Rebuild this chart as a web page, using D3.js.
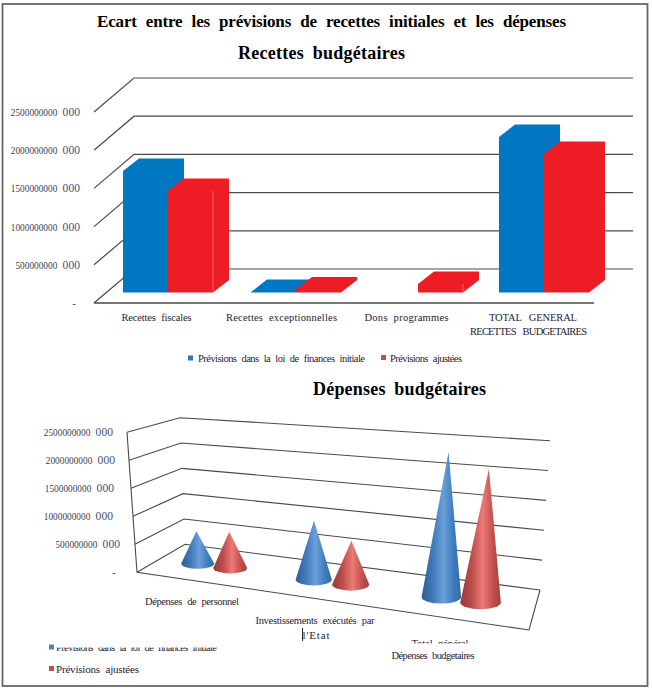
<!DOCTYPE html>
<html><head><meta charset="utf-8">
<script src="https://cdnjs.cloudflare.com/ajax/libs/d3/7.8.5/d3.min.js"></script>
<style>html,body{margin:0;padding:0;background:#fff}svg{display:block}text{font-family:"Liberation Serif",serif}</style>
</head><body><svg id="c" width="652" height="691"></svg>
<script>
const seriesNames = ["Prévisions dans la loi de finances initiale", "Prévisions ajustées"];
const tickValues = [0, 500000000, 1000000000, 1500000000, 2000000000, 2500000000];
const tickLabels = ["-", "500000000 000", "1000000000 000", "1500000000 000", "2000000000 000", "2500000000 000"];
const recCats = ["Recettes fiscales", "Recettes exceptionnelles", "Dons programmes", "TOTAL GENERAL RECETTES BUDGETAIRES"];
const recInitial = [1590000000, 5000000, 0, 2035000000];
const recAdjusted = [1328000000, 40000000, 111000000, 1813000000];
const depCats = ["Dépenses de personnel", "Investissements exécutés par l'Etat", "Total général"];
const depInitial = [590000000, 1031000000, 2400000000];
const depAdjusted = [658000000, 752000000, 2175000000];

const svg = d3.select("#c");
const defs = svg.append("defs");
const BLUE = "#0078c1", RED = "#ee1c25";
const gridCol = "#4a4a4a", textCol = "#2a2233";

function grad(id, stops){
  const g = defs.append("linearGradient").attr("id", id).attr("x1",0).attr("x2",1).attr("y1",0).attr("y2",0);
  stops.forEach(s => g.append("stop").attr("offset", s[0]).attr("stop-color", s[1]));
}
grad("gBlue", [[0,"#2c5f94"],[.3,"#3f7cbc"],[.55,"#6b9fd8"],[.8,"#3f7dc0"],[1,"#35699f"]]);
grad("gRed", [[0,"#9a3a38"],[.3,"#bd4f4c"],[.55,"#ec7a77"],[.8,"#c4514e"],[1,"#a23f3c"]]);

function label(x, y, str, size, width, opts){
  opts = opts || {};
  const t = svg.append("text").attr("x", x).attr("y", y).attr("font-size", size)
    .attr("fill", opts.fill || textCol).attr("text-anchor", opts.anchor || "start")
    .attr("font-weight", opts.bold ? "bold" : "normal")
    .attr("word-spacing", opts.ws == null ? 3 : opts.ws).text(str);
  if (width) t.attr("textLength", width).attr("lengthAdjust", "spacing");
  if (opts.clip) t.attr("clip-path", "url(#" + opts.clip + ")");
  return t;
}
function tickLabel(xEnd, y, str){
  const parts = str.split(" ");
  const t = svg.append("text").attr("x", xEnd).attr("y", y).attr("text-anchor","end").attr("fill", "#3a3f50").attr("word-spacing",3);
  if (parts.length < 2) { t.attr("font-size",11).text(str); return; }
  t.append("tspan").attr("font-size",9.3).text(parts[0] + " ");
  t.append("tspan").attr("font-size",11.6).attr("fill","#45566e").text(parts[1]);
}

// Outer frame
svg.append("rect").attr("x",2.5).attr("y",4).attr("width",645).attr("height",682)
  .attr("fill","#fff").attr("stroke","#666").attr("stroke-width",1.8);

// Titles
label(97, 27, "Ecart entre les prévisions de recettes initiales et les dépenses", 17, 469, {bold:true, fill:"#000", ws:5});
label(238, 59, "Recettes budgétaires", 18, 167, {bold:true, fill:"#000", ws:4});
label(313, 395, "Dépenses budgétaires", 18, 173, {bold:true, fill:"#000", ws:4});

/* ---------- Top chart: 3D columns ---------- */
const yTop = d3.scaleLinear().domain([0, 2500000000]).range([303, 112]);
const xTop = d3.scaleBand().domain(recCats).range([94, 594]).paddingInner(.28).paddingOuter(.14);
const sTop = d3.scaleBand().domain(seriesNames).range([0, xTop.bandwidth()]);
const wallDx = 40, wallDy = -34;
const gTop = svg.append("g");
gTop.selectAll("path.grid").data(tickValues).join("path").attr("class","grid")
  .attr("fill","none").attr("stroke",gridCol).attr("stroke-width",1.2)
  .attr("d", v => d3.line()([[94,yTop(v)],[94+wallDx,yTop(v)+wallDy],[633,yTop(v)+wallDy]]));
gTop.append("line").attr("x1",94).attr("x2",594).attr("y1",yTop(0)).attr("y2",yTop(0)).attr("stroke",gridCol).attr("stroke-width",1.3);

const floorDx = 11, floorDy = -10.5, depthDx = 16, depthDy = -12.5;
const catNudge = [0.5, 3.5, 0.5, 1.5];
const bars = [];
recCats.forEach((c,i) => {
  bars.push({cat:c, s:seriesNames[0], v:recInitial[i], col:BLUE, i});
  bars.push({cat:c, s:seriesNames[1], v:recAdjusted[i], col:RED, i});
});
bars.filter(d => d.v > 0).forEach(d => {
  const x0 = xTop(d.cat) + sTop(d.s) + floorDx + catNudge[d.i], x1 = x0 + sTop.bandwidth();
  const y0 = yTop(0) + floorDy, y1 = yTop(d.v) + floorDy;
  gTop.append("path").attr("fill", d.col).attr("d", d3.line()([
    [x0,y0],[x0,y1],[x0+depthDx,y1+depthDy],[x1+depthDx,y1+depthDy],[x1+depthDx,y0+depthDy],[x1,y0]]));
  if (d.col === RED && d.i !== 3 && y0 - y1 > 4)
    gTop.append("line").attr("x1",x1).attr("x2",x1).attr("y1",y1).attr("y2",y0).attr("stroke","#f4787c").attr("stroke-width",.8);
});

const topLabelEnds = [76,80,80,80,80,80];
tickLabels.forEach((t,i) => tickLabel(topLabelEnds[i], yTop(tickValues[i]) + 4, t));
label(xTop(recCats[0]) + xTop.bandwidth()/2, 321, "Recettes fiscales", 10.5, 70, {anchor:"middle"});
label(xTop(recCats[1]) + xTop.bandwidth()/2, 321, "Recettes exceptionnelles", 10.5, 111, {anchor:"middle"});
label(xTop(recCats[2]) + xTop.bandwidth()/2, 321, "Dons programmes", 10.5, 84, {anchor:"middle"});
label(533, 321, "TOTAL GENERAL", 10.5, 88, {anchor:"middle", ws:5});
label(528.5, 335, "RECETTES BUDGETAIRES", 10.5, 117, {anchor:"middle", ws:5});

svg.append("rect").attr("x",188).attr("y",355.5).attr("width",5).attr("height",5).attr("fill","#2f78bd");
label(198, 362, seriesNames[0], 10.5, 167);
svg.append("rect").attr("x",381).attr("y",355).attr("width",5).attr("height",5).attr("fill","#c0504d");
label(390, 362, seriesNames[1], 10.5, 72);

/* ---------- Bottom chart: perspective cones ---------- */
const wMax = 2500000000;
const corners = {
  FL: [[137,572.3],[127,432.3]], BL: [[185,544.3],[180,417.7]],
  BR: [[540,590],[550,440.7]],   FR: [[529,630],[544,465]]
};
const mix = (a,b,t) => a + (b-a)*t;
const wScale = d3.scaleLinear().domain([0,wMax]).range([0,1]);
function proj(u, v, val){
  const w = wScale(val);
  const at = k => [mix(corners[k][0][0],corners[k][1][0],w), mix(corners[k][0][1],corners[k][1][1],w)];
  const f = [0,1].map(j => mix(at("FL")[j], at("FR")[j], u));
  const b = [0,1].map(j => mix(at("BL")[j], at("BR")[j], u));
  return [mix(f[0],b[0],v), mix(f[1],b[1],v)];
}
const gBot = svg.append("g");
const line = d3.line();
tickValues.forEach(v => {
  gBot.append("path").attr("fill","none").attr("stroke",gridCol).attr("stroke-width",1.1)
    .attr("d", line([proj(0,0,v), proj(0,1,v), proj(1,1,v)]));
});
gBot.append("path").attr("fill","none").attr("stroke",gridCol).attr("stroke-width",1.1)
  .attr("d", line([proj(0,0,wMax), proj(0,0,0), proj(1,0,0), proj(1,1,0)]));

const uCat = d3.scaleBand().domain(depCats).range([.012,.984]);
const uSer = d3.scalePoint().domain(seriesNames).range([-.048,.048]);
const uWarp = d3.scalePow().exponent(1.12).domain([0,1]).range([0,1]);
const rx = d3.scaleLinear().domain([0,1]).range([16,21]);
const vMid = .5;
const cones = [];
depCats.forEach((c,i) => {
  cones.push({cat:c, s:seriesNames[0], v:depInitial[i], fill:"url(#gBlue)"});
  cones.push({cat:c, s:seriesNames[1], v:depAdjusted[i], fill:"url(#gRed)"});
});
cones.forEach(d => {
  const u = uWarp(uCat(d.cat) + uCat.bandwidth()/2 + uSer(d.s));
  const b = proj(u, vMid, 0), a = proj(u, vMid, d.v);
  const r = rx(u), ry = r*.33;
  gBot.append("path").attr("fill", d.fill).attr("d",
    `M${b[0]-r},${b[1]} L${a[0]},${a[1]} L${b[0]+r},${b[1]} A${r},${ry} 0 0 1 ${b[0]-r},${b[1]} Z`);
});

const botLabelEnds = [116,120,113,114,115,113];
tickLabels.forEach((t,i) => tickLabel(botLabelEnds[i], proj(0,0,tickValues[i])[1] + 4, t));

const cp1 = defs.append("clipPath").attr("id","clipLeg"); cp1.append("rect").attr("x",40).attr("y",647.5).attr("width",300).attr("height",20);
const cp2 = defs.append("clipPath").attr("id","clipTot"); cp2.append("rect").attr("x",390).attr("y",630).attr("width",100).attr("height",13.5);

label(192, 605, "Dépenses de personnel", 10.5, 94, {anchor:"middle"});
label(315, 624, "Investissements exécutés par", 10.5, 119, {anchor:"middle"});
label(316, 639, "l'Etat", 11, 27, {anchor:"middle"});
svg.append("line").attr("x1",302.5).attr("x2",302.5).attr("y1",628).attr("y2",641).attr("stroke","#223").attr("stroke-width",1);
label(440, 647, "Total général", 10.5, 57, {anchor:"middle", clip:"clipTot"});
label(433, 659, "Dépenses budgetaires", 10.5, 83, {anchor:"middle"});

svg.append("rect").attr("x",49).attr("y",644.5).attr("width",5).attr("height",5).attr("fill","#4f81bd");
label(56, 651, seriesNames[0], 10.5, 161, {clip:"clipLeg"});
svg.append("rect").attr("x",49).attr("y",666).attr("width",5).attr("height",5).attr("fill","#c0504d");
label(56, 673, seriesNames[1], 11, 83);
</script></body></html>
